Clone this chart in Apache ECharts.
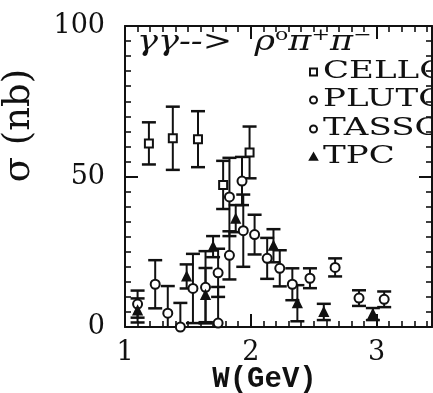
<!DOCTYPE html>
<html>
<head>
<meta charset="utf-8">
<script src="https://cdn.jsdelivr.net/npm/echarts@6/dist/echarts.min.js"></script>
<style>
  html, body { margin: 0; padding: 0; background: #fff; }
  #chart { width: 433px; height: 393px; }
</style>
</head>
<body>
<div id="chart"></div>
<script>
// Cross sections sigma(gamma gamma -> rho0 pi+ pi-) in nb versus W in GeV
const celloW = [1.19, 1.38, 1.58, 1.78, 1.99];
const celloS = [61.0, 62.7, 62.4, 47.2, 58.0];
const celloE = [7.0, 10.5, 9.3, 8.0, 8.6];

const plutoW = [1.10, 1.24, 1.34, 1.44, 1.54, 1.74, 1.83, 1.94, 2.03, 2.13, 2.23, 2.33];
const plutoS = [7.6, 14.2, 4.6, 0.0, 12.8, 18.0, 23.8, 32.0, 30.7, 22.8, 19.5, 14.2];
const plutoE = [4.5, 8.0, 9.0, 8.0, 11.5, 8.0, 8.0, 12.0, 6.6, 6.8, 6.0, 5.3];

const tassoW = [1.64, 1.74, 1.83, 1.93, 2.47, 2.67, 2.86, 3.06];
const tassoS = [13.2, 1.3, 43.2, 48.5, 16.2, 19.8, 9.6, 9.2];
const tassoE = [12.0, 12.0, 13.0, 8.0, 3.3, 3.0, 2.6, 2.6];

const tpcW = [1.10, 1.49, 1.64, 1.70, 1.88, 2.18, 2.37, 2.58, 2.97];
const tpcS = [5.5, 16.8, 10.6, 26.7, 36.0, 27.0, 7.9, 5.0, 4.3];
const tpcE = [4.0, 4.0, 9.0, 3.5, 4.5, 5.5, 6.0, 2.7, 2.0];

const xTickLabels = [1, 2, 3];
const yTickLabels = [0, 50, 100];
const legendNames = ['CELLO', 'PLUTO', 'TASSO', 'TPC'];

const INK = '#111';
const zip = (w, s, e) => w.map((x, i) => [x, s[i], e[i]]);

function errorBars(data) {
  return {
    type: 'custom',
    clip: true,
    silent: true,
    data: data,
    encode: { x: 0, y: 1 },
    renderItem: function (params, api) {
      const x = api.value(0), y = api.value(1), e = api.value(2);
      const hi = api.coord([x, y + e]);
      const lo = api.coord([x, y - e]);
      const half = 7;
      return {
        type: 'group',
        children: [
          { type: 'line', shape: { x1: hi[0], y1: hi[1], x2: lo[0], y2: lo[1] }, style: { stroke: INK, lineWidth: 2 } },
          { type: 'line', shape: { x1: hi[0] - half, y1: hi[1], x2: hi[0] + half, y2: hi[1] }, style: { stroke: INK, lineWidth: 2.5 } },
          { type: 'line', shape: { x1: lo[0] - half, y1: lo[1], x2: lo[0] + half, y2: lo[1] }, style: { stroke: INK, lineWidth: 2.5 } }
        ]
      };
    },
    z: 2
  };
}

function markers(name, data, symbol, size, fill) {
  return {
    type: 'scatter',
    name: name,
    data: data.map(d => [d[0], d[1]]),
    symbol: symbol,
    symbolSize: size,
    itemStyle: { color: fill, borderColor: INK, borderWidth: 2, opacity: 1 },
    clip: true,
    z: 3
  };
}

const cello = zip(celloW, celloS, celloE);
const pluto = zip(plutoW, plutoS, plutoE);
const tasso = zip(tassoW, tassoS, tassoE);
const tpc = zip(tpcW, tpcS, tpcE);

const serif = 'DejaVu Serif';

const axisCommon = {
  type: 'value',
  splitLine: { show: false },
  axisLine: { show: true, onZero: false, lineStyle: { color: INK, width: 2 } },
  axisTick: { show: true, inside: true, length: 13, lineStyle: { color: INK, width: 2 } },
  minorTick: { show: true, splitNumber: 10, length: 6, lineStyle: { color: INK, width: 1.6 } }
};

// legend rows drawn as graphic elements
const legendY = [72, 100, 129, 157];
const legendGraphics = [];
legendNames.forEach((n, i) => {
  const cy = legendY[i];
  let shape;
  if (i === 0) shape = { type: 'rect', shape: { x: 310, y: cy - 3.5, width: 7, height: 7 }, style: { fill: '#fff', stroke: INK, lineWidth: 2 } };
  else if (i === 3) shape = { type: 'polygon', shape: { points: [[313.5, cy - 4], [309.5, cy + 3], [317.5, cy + 3]] }, style: { fill: INK, stroke: INK, lineWidth: 1.5 } };
  else shape = { type: 'circle', shape: { cx: 313.5, cy: cy, r: 3.5 }, style: { fill: '#fff', stroke: INK, lineWidth: 2 } };
  legendGraphics.push(shape);
  legendGraphics.push({
    type: 'text', x: 323, y: cy, scaleX: 1.42,
    style: { text: n, fill: INK, font: '24px "DejaVu Serif"', textVerticalAlign: 'middle', textAlign: 'left' }
  });
});

const chart = echarts.init(document.getElementById('chart'), null, { renderer: 'canvas' });
chart.setOption({
  animation: false,
  backgroundColor: '#fff',
  grid: { left: 125, right: 1, top: 26, bottom: 66, containLabel: false, outerBoundsMode: 'none' },
  xAxis: [
    Object.assign({}, axisCommon, {
      position: 'bottom', min: 1, max: 3.44, interval: 1,
      axisLabel: {
        margin: 12, color: INK, fontFamily: serif, fontSize: 27,
        formatter: v => (xTickLabels.indexOf(Math.round(v * 100) / 100) >= 0 ? String(v) : '')
      },
      name: 'W(GeV)', nameLocation: 'middle', nameGap: 38, nameMoveOverlap: false,
      nameTextStyle: { color: INK, fontFamily: 'Liberation Mono', fontWeight: 'bold', fontSize: 29, padding: [0, 28, 0, 0] }
    }),
    Object.assign({}, axisCommon, {
      position: 'top', min: 1, max: 3.44, interval: 1, axisLabel: { show: false }
    })
  ],
  yAxis: [
    Object.assign({}, axisCommon, {
      position: 'left', min: 0, max: 100, interval: 50,
      axisLabel: {
        margin: 20, color: INK, fontFamily: serif, fontSize: 27,
        formatter: v => (yTickLabels.indexOf(v) >= 0 ? String(v) : '')
      },
      name: 'σ (nb)', nameLocation: 'middle', nameRotate: 90, nameGap: 87, nameMoveOverlap: false,
      nameTextStyle: { color: INK, fontFamily: serif, fontSize: 37, padding: [0, 0, 0, 102] }
    }),
    Object.assign({}, axisCommon, {
      position: 'right', min: 0, max: 100, interval: 50, axisLabel: { show: false }
    })
  ],
  graphic: [
    {
      type: 'text', x: 137, y: 43, scaleX: 1.3,
      style: {
        text: '{a|γγ-->  ρ}{s|o}{a|π}{s|+}{a|π}{s|−}',
        textVerticalAlign: 'middle',
        rich: {
          a: { fontFamily: serif, fontStyle: 'italic', fontSize: 27, fill: INK, color: INK },
          s: { fontFamily: serif, fontSize: 17, fill: INK, color: INK, verticalAlign: 'top', padding: [0, 0, 14, 0] }
        }
      }
    }
  ].concat(legendGraphics),
  series: [
    errorBars(cello), errorBars(pluto), errorBars(tasso), errorBars(tpc),
    markers('CELLO', cello, 'rect', 8, '#fff'),
    markers('PLUTO', pluto, 'circle', 9, '#fff'),
    markers('TASSO', tasso, 'circle', 9, '#fff'),
    markers('TPC', tpc, 'triangle', 8, INK)
  ]
});
</script>
</body>
</html>
